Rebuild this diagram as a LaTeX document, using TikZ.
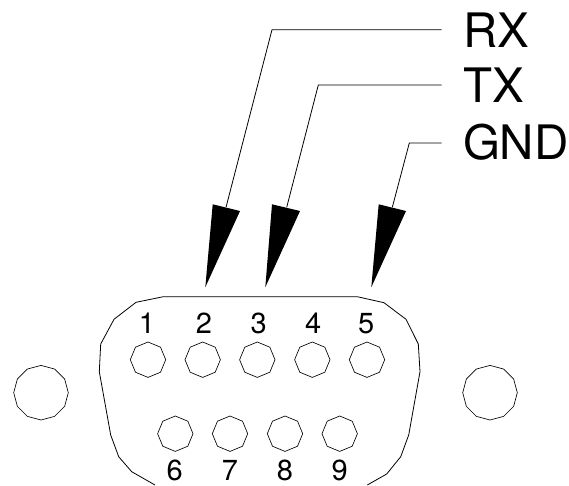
\documentclass[tikz,border=0pt]{standalone}
\usepackage{fontspec}
\setmainfont{TeX Gyre Heros}
\usetikzlibrary{shapes.geometric}
\tikzset{
  wire/.style={line width=0.8pt,black,line join=miter},
  pinhole/.style={draw,line width=0.65pt,regular polygon,regular polygon sides=8,shape border rotate=22.5,minimum size=35.4pt,inner sep=0pt,outer sep=0pt},
  screwhole/.style={draw,line width=0.65pt,regular polygon,regular polygon sides=12,shape border rotate=15,minimum size=54.6pt,inner sep=0pt,outer sep=0pt},
  biglabel/.style={anchor=base west,inner sep=0pt,outer sep=0pt,font=\fontsize{47.5}{47.5}\selectfont},
  pinlabel/.style={anchor=base,inner sep=0pt,outer sep=0pt,font=\fontsize{29}{29}\selectfont},
  head/.style={fill=black,draw=none}
}
\begin{document}
\begin{tikzpicture}[x=1pt,y=-1pt]
\useasboundingbox (0,0) rectangle (569,485);
% connector shell
\draw[wire] (155,485) -- (131.7,471.7) -- (118.7,456.7) -- (110.7,435) -- (99.3,371.7) -- (100.7,344) -- (114,319.3) -- (136,302.3) -- (163.3,296.7) -- (357.3,296.7) -- (384,302.7) -- (406,319.3) -- (418.3,344) -- (420,371.7) -- (408.7,435) -- (400.7,456.7) -- (386.7,474) -- (367.3,485);
% screw holes
\node[screwhole] (screwL) at (41,392.7) {};
\node[screwhole] (screwR) at (490,392.7) {};
% pins
\node[pinhole] (p1) at (148,359.7) {};
\node[pinhole] (p2) at (202.7,359.7) {};
\node[pinhole] (p3) at (257.3,359.7) {};
\node[pinhole] (p4) at (312.3,359.7) {};
\node[pinhole] (p5) at (367,359.7) {};
\node[pinhole] (p6) at (175.3,433.7) {};
\node[pinhole] (p7) at (230,433.7) {};
\node[pinhole] (p8) at (285,433.7) {};
\node[pinhole] (p9) at (339.7,433.7) {};
% pin numbers
\node[pinlabel] (n1) at (147,333.5) {1};
\node[pinlabel] (n2) at (204,333.5) {2};
\node[pinlabel] (n3) at (258.7,333.5) {3};
\node[pinlabel] (n4) at (313.3,333.5) {4};
\node[pinlabel] (n5) at (366.3,333.5) {5};
\node[pinlabel] (n6) at (174.7,480) {6};
\node[pinlabel] (n7) at (230,480) {7};
\node[pinlabel] (n8) at (285,480) {8};
\node[pinlabel] (n9) at (339.7,480) {9};
% signal labels
\node[biglabel] (rx) at (463,47.3) {RX};
\node[biglabel] (tx) at (463,102.7) {TX};
\node[biglabel] (gnd) at (463,159.3) {GND};
% leaders
\coordinate (rxend) at (441.7,29.7);
\coordinate (rxbend) at (272,29.7);
\coordinate (rxhead) at (226,207.3);
\coordinate (txend) at (441.7,85);
\coordinate (txbend) at (318.3,85);
\coordinate (txhead) at (286.7,207.3);
\coordinate (gndend) at (441.7,143);
\coordinate (gndbend) at (409.3,143);
\coordinate (gndhead) at (392.3,207.3);
\draw[wire] (rxend) -- (rxbend) -- (rxhead);
\draw[wire] (txend) -- (txbend) -- (txhead);
\draw[wire] (gndend) -- (gndbend) -- (gndhead);
\fill[head] (205.3,287.3) -- (212.7,204.3) -- (240,211) -- cycle;
\fill[head] (265.3,287.3) -- (272,204.3) -- (300,211) -- cycle;
\fill[head] (371.3,287.3) -- (378.7,204.3) -- (406,211) -- cycle;
\end{tikzpicture}
\end{document}
